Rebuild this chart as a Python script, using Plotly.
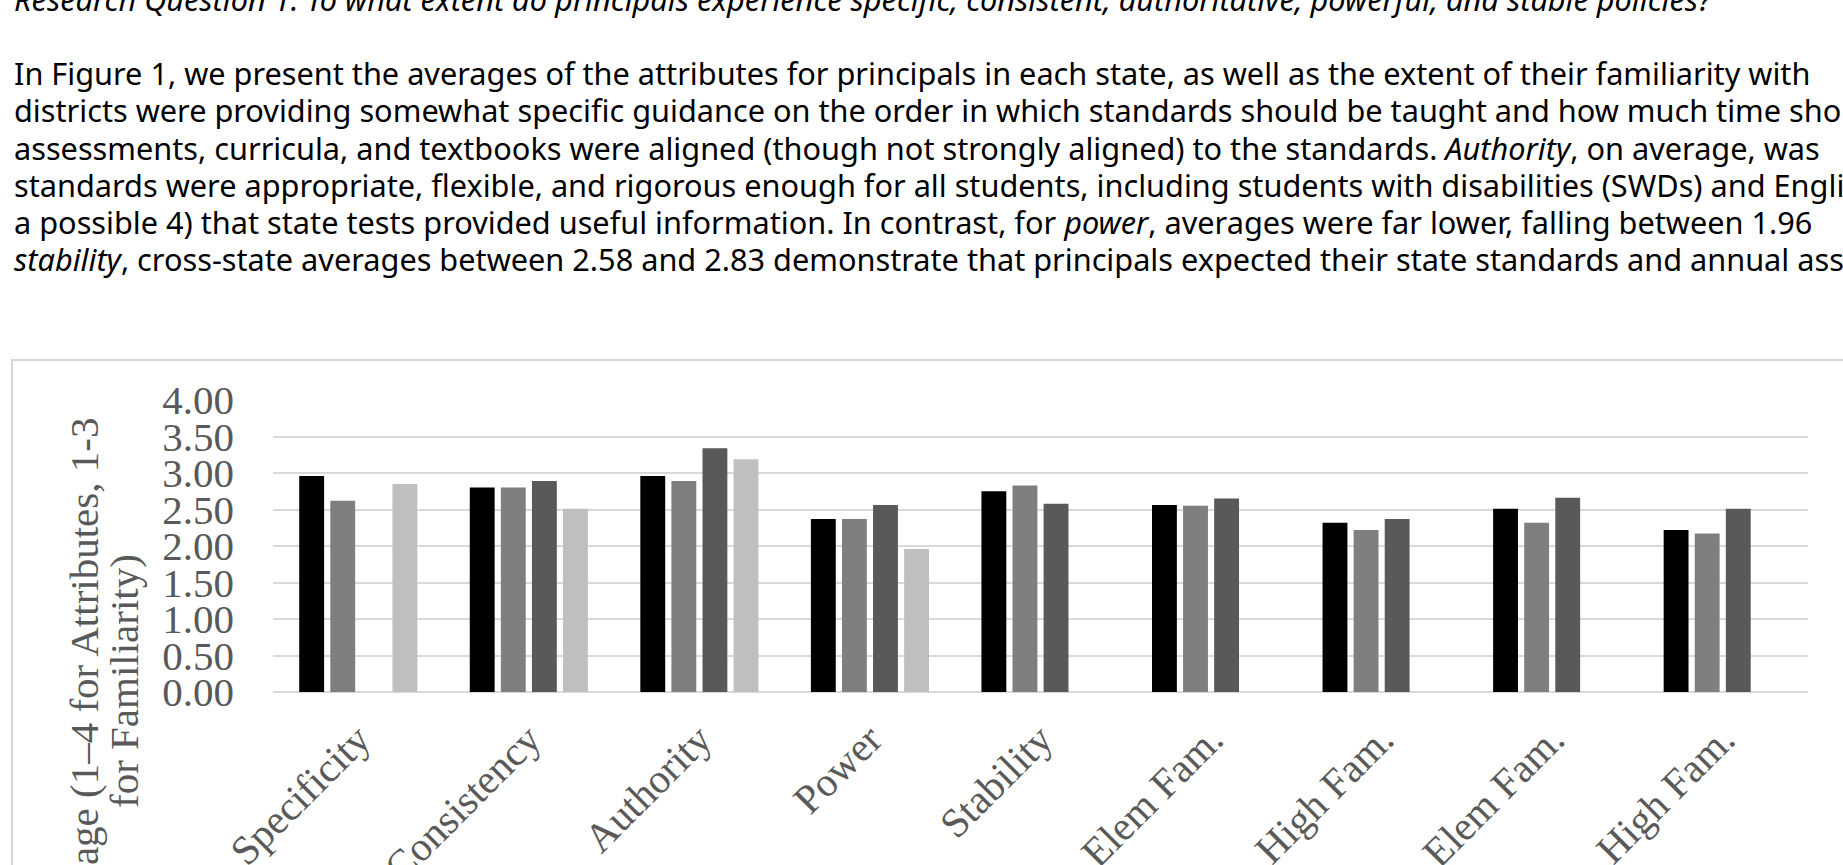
import plotly.graph_objects as go

# Category labels along the x axis
categories = ["Specificity", "Consistency", "Authority", "Power", "Stability",
              "Elem Fam.", "High Fam.", "Elem Fam.", "High Fam."]

# Average ratings per state (None = not reported)
state_a = [2.96, 2.80, 2.96, 2.37, 2.75, 2.56, 2.32, 2.51, 2.22]
state_b = [2.62, 2.80, 2.89, 2.37, 2.83, 2.55, 2.22, 2.32, 2.17]
state_c = [None, 2.89, 3.34, 2.56, 2.58, 2.65, 2.37, 2.66, 2.51]
state_d = [2.85, 2.51, 3.19, 1.96, None, None, None, None, None]

series_names = ["State A", "State B", "State C", "State D"]
series_colors = ["#000000", "#7f7f7f", "#595959", "#bfbfbf"]

y_ticks = [0, 0.5, 1, 1.5, 2, 2.5, 3, 3.5, 4]

# Paragraph lines above the figure
paragraph = [
    "<i>Research Question 1: To what extent do principals experience specific, consistent, "
    "authoritative, powerful, and stable policies?</i>",
    "",
    "In Figure 1, we present the averages of the attributes for principals in each state, "
    "as well as the extent of their familiarity with",
    "districts were providing somewhat specific guidance on the order in which standards "
    "should be taught and how much time should",
    "assessments, curricula, and textbooks were aligned (though not strongly aligned) to the "
    "standards. <i>Authority</i>, on average, was",
    "standards were appropriate, flexible, and rigorous enough for all students, including "
    "students with disabilities (SWDs) and English",
    "a possible 4) that state tests provided useful information. In contrast, for <i>power</i>, "
    "averages were far lower, falling between 1.96",
    "<i>stability</i>, cross-state averages between 2.58 and 2.83 demonstrate that principals "
    "expected their state standards and annual assessments",
]

y_title_lines = ["Average (1\u20134 for Attributes, 1-3", "for Familiarity)"]

W, H = 1843, 865
PL, PR, PT, PB = 273, 1808, 400, 692  # plot area in pixels


def px_x(px):
    return (px - PL) / (PR - PL)


def px_y(py):
    return (PB - py) / (PB - PT)


fig = go.Figure()
for name, vals, col in zip(series_names, [state_a, state_b, state_c, state_d], series_colors):
    fig.add_trace(go.Bar(
        x=list(range(len(categories))), y=vals, name=name,
        marker=dict(color=col, line=dict(width=0)),
    ))

serif = "Liberation Serif, Times New Roman, serif"
axis_grey = "#595959"

fig.update_layout(
    width=W, height=H,
    margin=dict(l=PL, r=W - PR, t=PT, b=H - PB, pad=0, autoexpand=False),
    paper_bgcolor="white", plot_bgcolor="white",
    barmode="group", bargap=0.271, bargroupgap=0.2,
    showlegend=False,
    xaxis=dict(
        tickvals=list(range(len(categories))), ticktext=categories,
        range=[-0.5, len(categories) - 0.5], automargin=False,
        tickangle=-45, ticks="", showgrid=False, zeroline=False, showline=False,
        tickfont=dict(family=serif, size=41, color=axis_grey),
        ticklabelstandoff=14,
    ),
    yaxis=dict(
        range=[0, 4], tickvals=y_ticks, tickformat=".2f", automargin=False,
        showgrid=True, gridcolor="#d9d9d9", gridwidth=2,
        zeroline=True, zerolinecolor="#d9d9d9", zerolinewidth=2,
        showline=False, ticks="",
        tickfont=dict(family=serif, size=41, color=axis_grey),
        ticklabelstandoff=38,
    ),
)

# Frame around the chart
fig.add_shape(type="rect", xref="paper", yref="paper",
              x0=px_x(12), x1=px_x(1860), y0=px_y(905), y1=px_y(360),
              line=dict(color="#d6d6d6", width=2), fillcolor="rgba(0,0,0,0)", layer="below")

# Two-line rotated y-axis title
for cx, line in zip([84, 124], y_title_lines):
    fig.add_annotation(xref="paper", yref="paper", x=px_x(cx), y=px_y(681),
                       text=line, textangle=-90, showarrow=False,
                       xanchor="center", yanchor="middle",
                       font=dict(family=serif, size=41, color=axis_grey))

# Paragraph text
base0 = 8.8
pitch = 37.2
sans = "Noto Sans, DejaVu Sans, sans-serif"
for i, line in enumerate(paragraph):
    if not line:
        continue
    baseline = base0 + i * pitch
    fig.add_annotation(xref="paper", yref="paper", x=px_x(12), y=px_y(baseline - 10),
                       text=line, showarrow=False, xanchor="left", yanchor="middle",
                       align="left", font=dict(family=sans, size=30.7, color="#000000"))

fig.write_html("out.html")
